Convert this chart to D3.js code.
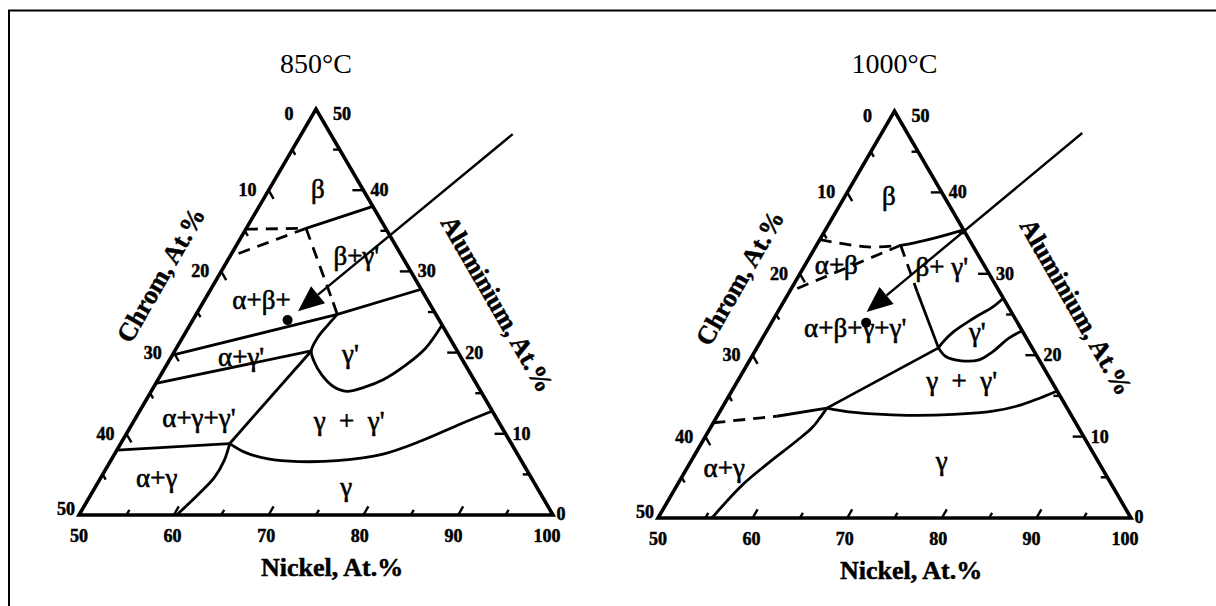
<!DOCTYPE html>
<html>
<head>
<meta charset="utf-8">
<script src="https://cdn.jsdelivr.net/npm/d3@7"></script>
<style>
  html, body { margin: 0; padding: 0; background: #fff; }
  svg { display: block; }
</style>
</head>
<body>
<svg id="chart" width="1216" height="606"></svg>
<script>
// Ni–Cr–Al isothermal sections, Ni-rich corner (Ni 50–100 at.%).
// Every composition is written as [Ni, Al] in at.%; Cr = 100 − Ni − Al.

const temperatures = ["850°C", "1000°C"];

const nickelTicks = [50, 55, 60, 65, 70, 75, 80, 85, 90, 95, 100];
const nickelLabels = ["50", "60", "70", "80", "90", "100"];
const chromTicks = [5, 10, 15, 20, 25, 30, 35, 40, 45];
const chromLabels = ["0", "10", "20", "30", "40", "50"];
const aluminiumTicks = [5, 10, 15, 20, 25, 30, 35, 40, 45];
const aluminiumLabels = ["50", "40", "30", "20", "10", "0"];

const axisTitles = ["Nickel, At.%", "Chrom, At.%", "Aluminium, At.%"];

// ---- 850°C ----
const b850_betaEdge      = [[62.0, 38.0], [56.3, 35.3]];
const b850_dashTop       = [[50.0, 35.2], [56.3, 35.3]];
const b850_dashLower     = [[56.3, 35.3], [50.0, 31.8]];
const b850_dashVertical  = [[56.3, 35.3], [63.7, 26.2]];
const b850_vertical      = [[63.7, 26.2], [64.9, 24.7]];
const b850_gpEdge        = [[72.2, 27.8], [64.9, 24.7]];
const b850_alphaUpper    = [[64.9, 24.7], [50.0, 19.7]];
const b850_alphaGp       = [[50.0, 16.2], [64.4, 20.2]];
const b850_gammaPrime    = [[64.9, 24.7], [64.55, 23.35], [64.25, 21.92], [64.4, 20.2], [65.37, 18.88],
                            [66.98, 17.26], [68.91, 15.83], [70.63, 15.23], [72.2, 15.71], [73.75, 16.65],
                            [75.26, 18.48], [76.28, 20.5], [76.6, 23.4]];
const b850_threePhase    = [[64.4, 20.2], [61.5, 8.8]];
const b850_alphaGamma    = [[61.5, 8.8], [61.96, 6.7], [61.97, 4.67], [61.36, 2.64], [60.3, 0.0]];
const b850_alphaLower    = [[50.0, 8.0], [61.5, 8.8]];
const b850_gammaSolvus   = [[61.5, 8.8], [63.67, 7.71], [66.51, 6.9], [69.91, 6.58], [73.89, 6.7],
                            [78.32, 7.51], [81.56, 9.14], [84.59, 11.17], [87.2, 12.8]];

const phases850    = ["β", "β+γ'", "α+β+", "α+γ'", "γ'", "α+γ+γ'", "γ  +  γ'", "α+γ", "γ"];
const phasePos850  = [[55.1, 40.2], [63.3, 31.9], [56.0, 26.5], [57.35, 19.5], [68.7, 19.85],
                      [56.7, 11.9], [72.7, 11.6], [55.9, 4.6], [76.5, 3.4]];
const arrow850     = [[72.3, 46.9], [60.55, 25.1]];

// ---- 1000°C ----
const b1000_topDashed    = [[50.0, 34.2], [55.5, 33.3], [58.9, 33.5]];
const b1000_topSolid     = [[58.9, 33.5], [60.2, 33.8], [62.35, 34.5], [64.6, 35.4]];
const b1000_alphaBeta    = [[58.9, 33.5], [50.0, 27.8]];
const b1000_vertDashed   = [[58.9, 33.5], [63.5, 27.8]];
const b1000_vertSolid    = [[63.5, 27.8], [69.2, 20.9]];
const b1000_diagonal     = [[69.2, 20.9], [61.1, 13.5]];
const b1000_lowerDashed  = [[50.0, 11.7], [56.3, 12.5]];
const b1000_lowerSolid   = [[56.3, 12.5], [61.1, 13.5]];
const b1000_gammaSolvus  = [[61.1, 13.5], [63.95, 13.0], [67.41, 12.72], [70.79, 12.6], [74.89, 12.72],
                            [78.84, 13.12], [81.02, 13.73], [83.02, 14.75], [84.4, 15.6]];
const b1000_alphaGamma   = [[61.1, 13.5], [60.97, 12.3], [60.74, 11.08], [59.91, 9.46], [58.32, 6.81],
                            [56.85, 3.97], [55.7, 0.0]];
const b1000_gpUpper      = [[69.2, 20.9], [69.27, 21.46], [69.81, 22.89], [71.07, 24.51], [72.43, 25.94], [73.0, 27.0]];
const b1000_gpLower      = [[69.2, 20.9], [70.5, 19.84], [72.42, 19.31], [74.23, 19.43], [75.18, 20.45],
                            [76.02, 22.07], [77.0, 23.0]];

const phases1000   = ["β", "α+β", "β+ γ'", "α+β+γ+γ'", "γ'", "γ  +  γ'", "γ", "α+γ"];
const phasePos1000 = [[54.6, 39.6], [53.3, 31.1], [64.6, 30.8], [59.2, 23.3], [72.3, 22.9],
                      [73.7, 16.8], [76.5, 7.0], [53.9, 6.2]];
const arrow1000    = [[71.2, 47.3], [59.4, 25.3]];

// Alloy composition marked in both sections
const alloy = [60.0, 24.0];

// ---------------------------------------------------------------
const SERIF = "'Liberation Serif', 'Times New Roman', Times, serif";

const panels = [
  {
    title: temperatures[0], x0: 79, y0: 515, side: 474, height: 406,
    boundaries: [
      { pts: b850_betaEdge }, { pts: b850_dashTop, dashed: true }, { pts: b850_dashLower, dashed: true },
      { pts: b850_dashVertical, dashed: true }, { pts: b850_vertical }, { pts: b850_gpEdge },
      { pts: b850_alphaUpper }, { pts: b850_alphaGp }, { pts: b850_gammaPrime, smooth: true },
      { pts: b850_threePhase }, { pts: b850_alphaGamma, smooth: true }, { pts: b850_alphaLower },
      { pts: b850_gammaSolvus, smooth: true }
    ],
    phases: phases850, phasePos: phasePos850, arrow: arrow850
  },
  {
    title: temperatures[1], x0: 658, y0: 518, side: 473, height: 407,
    boundaries: [
      { pts: b1000_topDashed, dashed: true, smooth: true }, { pts: b1000_topSolid, smooth: true },
      { pts: b1000_alphaBeta, dashed: true }, { pts: b1000_vertDashed, dashed: true },
      { pts: b1000_vertSolid }, { pts: b1000_diagonal }, { pts: b1000_lowerDashed, dashed: true },
      { pts: b1000_lowerSolid }, { pts: b1000_gammaSolvus, smooth: true },
      { pts: b1000_alphaGamma, smooth: true }, { pts: b1000_gpUpper, smooth: true },
      { pts: b1000_gpLower, smooth: true }
    ],
    phases: phases1000, phasePos: phasePos1000, arrow: arrow1000
  }
];

const svg = d3.select("#chart");

// outer frame (top and left rules)
svg.append("path")
  .attr("d", "M9,606 V10.5 H1216")
  .attr("fill", "none").attr("stroke", "#000").attr("stroke-width", 2);

panels.forEach(p => drawPanel(p));

function drawPanel(p) {
  const g = svg.append("g");
  const h = p.height;
  const xs = d3.scaleLinear().domain([50, 100]).range([p.x0, p.x0 + p.side]);
  const ys = d3.scaleLinear().domain([0, 50]).range([p.y0, p.y0 - h]);
  const P = ([ni, al]) => [xs(ni + al / 2), ys(al)];

  const line = d3.line().x(d => P(d)[0]).y(d => P(d)[1]);
  const smoothLine = d3.line().x(d => P(d)[0]).y(d => P(d)[1]).curve(d3.curveCatmullRom.alpha(0.5));

  // title
  g.append("text")
    .attr("x", xs(75)).attr("y", 63)
    .attr("text-anchor", "middle").attr("dominant-baseline", "central")
    .attr("font-family", SERIF).attr("font-size", 28)
    .text(p.title);

  // phase boundaries
  p.boundaries.forEach(b => {
    g.append("path")
      .attr("d", (b.smooth ? smoothLine : line)(b.pts))
      .attr("fill", "none").attr("stroke", "#000")
      .attr("stroke-width", 2.8)
      .attr("stroke-dasharray", b.dashed ? "12,8" : null)
      .attr("stroke-linecap", "butt").attr("stroke-linejoin", "round");
  });

  // triangle frame
  const corners = [[50, 0], [100, 0], [50, 50]].map(P);
  g.append("path")
    .attr("d", d3.line()(corners) + "Z")
    .attr("fill", "none").attr("stroke", "#000").attr("stroke-width", 3.6)
    .attr("stroke-linejoin", "miter");

  const tickG = g.append("g").attr("stroke", "#000").attr("stroke-width", 2.4);
  const len = v => (v % 10 === 0 ? 10 : 6);
  const edgeUnit = [Math.cos(Math.PI / 3), Math.sin(Math.PI / 3)];

  // Nickel ticks along the base, parallel to the Cr edge
  nickelTicks.filter(v => v > 50 && v < 100).forEach(v => {
    const [x, y] = P([v, 0]);
    tickG.append("line").attr("x1", x).attr("y1", y)
      .attr("x2", x + edgeUnit[0] * len(v)).attr("y2", y - edgeUnit[1] * len(v));
  });
  // Chromium ticks along the left edge, parallel to the Al edge
  chromTicks.forEach(v => {
    const [x, y] = P([50, 50 - v]);
    tickG.append("line").attr("x1", x).attr("y1", y)
      .attr("x2", x + edgeUnit[0] * len(v)).attr("y2", y + edgeUnit[1] * len(v));
  });
  // Aluminium ticks along the right edge, parallel to the base
  aluminiumTicks.forEach(v => {
    const [x, y] = P([100 - v, v]);
    tickG.append("line").attr("x1", x).attr("y1", y)
      .attr("x2", x - len(v) * 1.1).attr("y2", y);
  });

  const tickText = (x, y, s) => g.append("text")
    .attr("x", x).attr("y", y)
    .attr("text-anchor", "middle").attr("dominant-baseline", "central")
    .attr("font-family", SERIF).attr("font-weight", "bold").attr("font-size", 18)
    .attr("stroke", "#000").attr("stroke-width", 0.5)
    .text(s);

  nickelLabels.forEach(s => {
    const v = +s;
    const [x, y] = P([v, 0]);
    tickText(x - (v - 50) * 0.12, y + 21, s);
  });
  chromLabels.forEach(s => {
    const v = +s;
    const [x, y] = P([50, 50 - v]);
    if (v === 0) tickText(x - 27, y + 5, s);
    else if (v === 50) tickText(x - 13, y - 6, s);
    else tickText(x - 21, y, s);
  });
  aluminiumLabels.forEach(s => {
    const v = +s;
    const [x, y] = P([100 - v, v]);
    if (v === 50) tickText(x + 26, y + 5, s);
    else if (v === 0) tickText(x + 8, y - 1, s);
    else tickText(x + 16, y, s);
  });

  // axis titles
  const axisText = (x, y, rot, s) => g.append("text")
    .attr("transform", `translate(${x},${y}) rotate(${rot})`)
    .attr("text-anchor", "middle").attr("dominant-baseline", "central")
    .attr("font-family", SERIF).attr("font-weight", "bold").attr("font-size", 26)
    .attr("stroke", "#000").attr("stroke-width", 0.5)
    .text(s);
  axisText(p.x0 + 253, p.y0 + 52, 0, axisTitles[0]);
  axisText(p.x0 + 82, p.y0 - 240, -60, axisTitles[1]);
  axisText(p.x0 + 418, p.y0 - 211, 60, axisTitles[2]);

  // phase field labels
  p.phases.forEach((s, i) => {
    const [x, y] = P(p.phasePos[i]);
    g.append("text")
      .attr("x", x).attr("y", y)
      .attr("text-anchor", "middle").attr("dominant-baseline", "central")
      .attr("font-family", SERIF).attr("font-size", 27)
      .attr("stroke", "#000").attr("stroke-width", 0.6)
      .attr("xml:space", "preserve").style("white-space", "pre")
      .text(s);
  });

  // alloy marker
  const [ax, ay] = P(alloy);
  g.append("circle").attr("cx", ax).attr("cy", ay).attr("r", 5).attr("fill", "#000");

  // arrow pointing at the alloy
  const [sx, sy] = P(p.arrow[0]);
  const [tx, ty] = P(p.arrow[1]);
  const ang = Math.atan2(ty - sy, tx - sx);
  const headLen = 26, headHalf = 11;
  const bx = tx - Math.cos(ang) * headLen, by = ty - Math.sin(ang) * headLen;
  g.append("line")
    .attr("x1", sx).attr("y1", sy).attr("x2", bx).attr("y2", by)
    .attr("stroke", "#000").attr("stroke-width", 2.4);
  g.append("path")
    .attr("d", d3.line()([
      [tx, ty],
      [bx + Math.sin(ang) * headHalf, by - Math.cos(ang) * headHalf],
      [bx - Math.sin(ang) * headHalf, by + Math.cos(ang) * headHalf]
    ]) + "Z")
    .attr("fill", "#000");
}
</script>
</body>
</html>
